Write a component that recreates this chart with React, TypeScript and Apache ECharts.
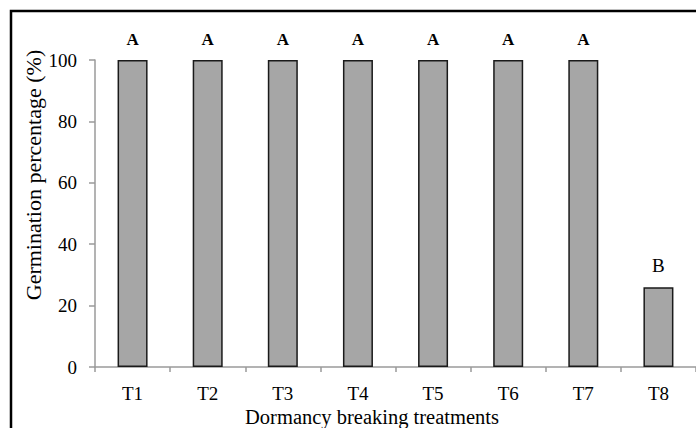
import React, { useEffect, useRef } from "react";
import * as echarts from "echarts";

const categories = ["T1", "T2", "T3", "T4", "T5", "T6", "T7", "T8"];
const germination = [100, 100, 100, 100, 100, 100, 100, 26];
const letters = ["A", "A", "A", "A", "A", "A", "A", "B"];
const letterBold = [true, true, true, true, true, true, true, false];
const yTicks = [0, 20, 40, 60, 80, 100];

const FONT = "'Liberation Serif', 'Times New Roman', serif";

export default function App() {
  const ref = useRef<HTMLDivElement>(null);
  useEffect(() => {
    if (!ref.current) return;
    const chart = echarts.init(ref.current, null, { renderer: "svg" });
    chart.setOption({
      animation: false,
      backgroundColor: "#ffffff",
      textStyle: { fontFamily: FONT },
      grid: { left: 95, top: 60, width: 603, height: 307 },
      graphic: [
        {
          type: "rect",
          shape: { x: 11, y: 11, width: 720, height: 450 },
          style: { fill: "none", stroke: "#000", lineWidth: 2.5 },
          z: 100,
        },
        {
          type: "text",
          x: 33,
          y: 175,
          rotation: Math.PI / 2,
          style: {
            text: "Germination percentage (%)",
            font: `22px ${FONT}`,
            fill: "#000",
            align: "center",
            verticalAlign: "middle",
          },
        },
        {
          type: "text",
          x: 372,
          y: 417,
          style: {
            text: "Dormancy breaking treatments",
            font: `20.5px ${FONT}`,
            fill: "#000",
            align: "center",
            verticalAlign: "middle",
          },
        },
      ],
      xAxis: {
        type: "category",
        data: categories,
        axisLine: { lineStyle: { color: "#9a9a9a", width: 1.5 } },
        axisTick: { show: true, length: 5, lineStyle: { color: "#9a9a9a", width: 1.5 } },
        axisLabel: {
          color: "#000",
          fontSize: 19,
          fontFamily: FONT,
          margin: 17,
        },
      },
      yAxis: {
        type: "value",
        min: yTicks[0],
        max: yTicks[yTicks.length - 1],
        interval: 20,
        splitLine: { show: false },
        axisLine: { show: true, lineStyle: { color: "#9a9a9a", width: 1.5 } },
        axisTick: { show: true, length: 6, lineStyle: { color: "#9a9a9a", width: 1.5 } },
        axisLabel: { color: "#000", fontSize: 19, fontFamily: FONT, margin: 18 },
      },
      series: [
        {
          type: "bar",
          barWidth: 30,
          data: germination.map((v, i) => ({
            value: v,
            label: {
              show: true,
              position: "top",
              distance: 12,
              formatter: letters[i],
              fontWeight: letterBold[i] ? "bold" : "normal",
              fontSize: letterBold[i] ? 17 : 19,
              color: "#000",
              fontFamily: FONT,
            },
          })),
          itemStyle: { color: "#a6a6a6", borderColor: "#1a1a1a", borderWidth: 1.5 },
        },
      ],
    });
    return () => chart.dispose();
  }, []);
  return (
    <div
      ref={ref}
      style={{ position: "fixed", left: 0, top: 0, width: 696, height: 428, background: "#fff" }}
    />
  );
}
